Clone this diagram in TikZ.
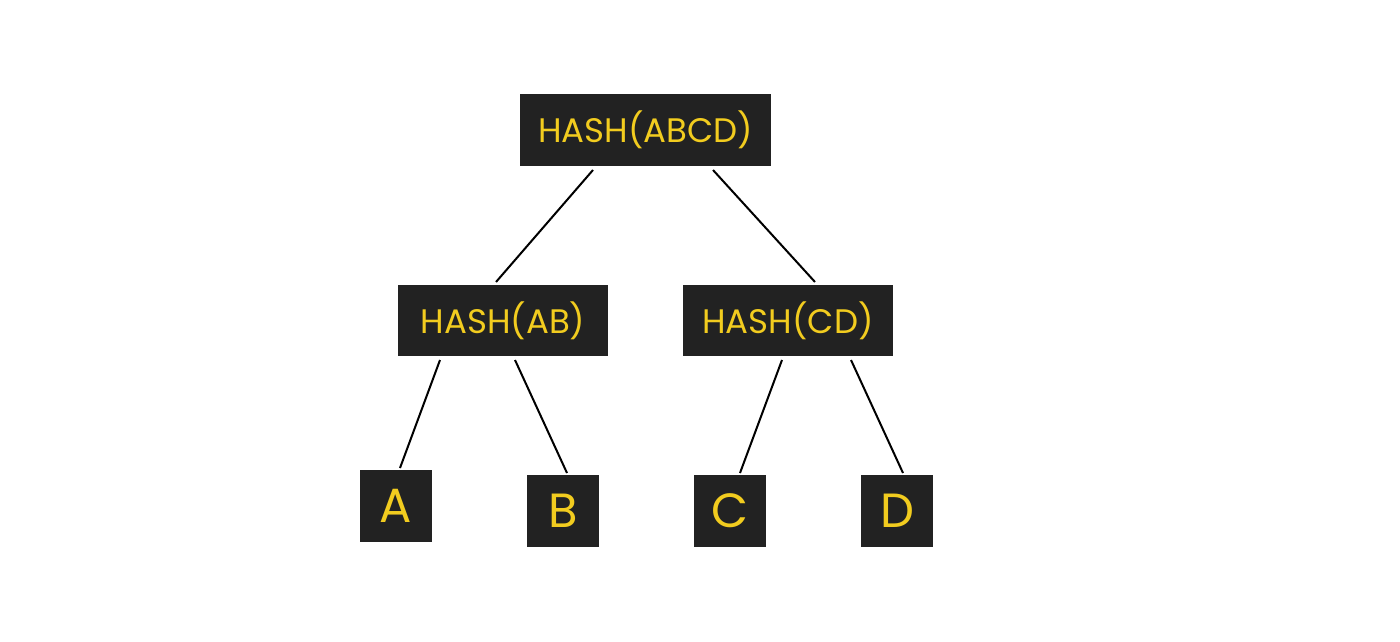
\documentclass[tikz,border=0pt]{standalone}
\usepackage{fontspec}
\setmainfont{Poppins}
\definecolor{hy}{HTML}{F2CC1F}
\definecolor{hb}{HTML}{222222}
\begin{document}
\begin{tikzpicture}[x=1pt,y=-1pt,
  hbox/.style={fill=hb,text=hy,inner sep=0pt,font=\fontsize{34}{34}\selectfont},
  leaf/.style={fill=hb,text=hy,inner sep=0pt,minimum width=72,minimum height=72,font=\fontsize{48}{48}\selectfont},
  edge/.style={line width=2pt,black}]
\useasboundingbox (0,0) rectangle (1400,642);
\node[hbox,minimum width=251,minimum height=72] (root) at (645.5,130) {HASH(ABCD)};
\node[hbox,minimum width=210,minimum height=71] (ab) at (503,320.5) {HASH(AB)};
\node[hbox,minimum width=210,minimum height=71] (cd) at (788,320.5) {HASH(CD)};
\node[leaf] (a) at (396,506) {A};
\node[leaf] (b) at (563,511) {B};
\node[leaf] (c) at (730,511) {C};
\node[leaf] (d) at (897,511) {D};
\coordinate (r1) at (593,170); \coordinate (r2) at (713,170);
\coordinate (ab1) at (496,282); \coordinate (cd1) at (815,282);
\coordinate (ab2) at (440,360); \coordinate (ab3) at (515,360);
\coordinate (cd2) at (782,360); \coordinate (cd3) at (851,360);
\coordinate (a1) at (400,468); \coordinate (b1) at (567,473);
\coordinate (c1) at (740,473); \coordinate (d1) at (903,473);
\draw[edge] (r1) -- (ab1);
\draw[edge] (r2) -- (cd1);
\draw[edge] (ab2) -- (a1);
\draw[edge] (ab3) -- (b1);
\draw[edge] (cd2) -- (c1);
\draw[edge] (cd3) -- (d1);
\end{tikzpicture}
\end{document}
